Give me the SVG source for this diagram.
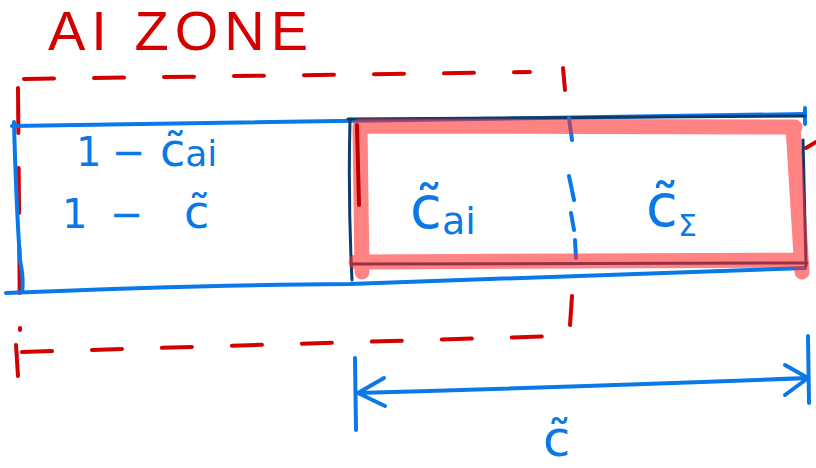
<svg xmlns="http://www.w3.org/2000/svg" width="816" height="468" viewBox="0 0 816 468">
<style>
.red{fill:none;stroke:#d40000;stroke-width:4;stroke-linecap:round;stroke-linejoin:round}
.blue{fill:none;stroke:#0a78e6;stroke-width:4;stroke-linecap:round;stroke-linejoin:round}
.navy{fill:none;stroke:#0c3a6e;stroke-width:3;stroke-linecap:round;stroke-linejoin:round}
.hl{fill:none;stroke:#ff2a2a;stroke-opacity:0.58;stroke-width:15;stroke-linecap:round;stroke-linejoin:round}
.dash{stroke-dasharray:30 40}
.lbl{font-family:"DejaVu Sans","Liberation Sans",sans-serif;fill:#0a78e6}
.ttl{font-family:"Liberation Sans",sans-serif;fill:#d40000;font-size:56px;letter-spacing:6px}
</style>
<rect width="816" height="468" fill="#ffffff"/>
<g id="title"><text class="ttl" x="48" y="50">AI ZONE</text></g>
<g id="ai-zone">
<path class="red dash" d="M24 79 L530 72"/>
<path class="red" d="M563 68 L565 90"/>
<path class="red dash" d="M18 88 L20 330" style="stroke-dasharray:45 35"/>
<path class="red" d="M572 296 L570 325"/>
<path class="red dash" d="M22 352 L560 336"/>
<path class="red" d="M16 345 L18 376"/>
<path class="red" d="M806 148 L816 142"/>
</g>
<g id="bar">
<path class="blue" d="M12 126 Q300 120 805 114"/>
<path class="blue" d="M6 293 Q200 285 350 284 Q600 276 805 268"/>
<path class="blue" d="M14 122 Q16 200 20 260 Q24 280 22 292"/>
<path class="blue" d="M805 108 L805 124"/>
</g>
<g id="highlight">
<path class="navy" d="M350 120 Q348 200 352 280"/>
<path class="navy" d="M348 119 L805 116"/>
<path class="navy" d="M803 140 L806 266"/>
<path class="navy" d="M352 264 L807 263"/>
<path class="blue" d="M569 118 L572 140 M569 176 L574 200 M571 213 L574 230 M575 240 L576 258"/>
<path class="hl" d="M360 127 L362 272 M360 126 L795 127 M793 127 L802 272 M356 262 L800 260"/>
<path class="red" d="M357 125 L359 205" style="stroke:#c00000"/>
</g>
<g id="labels">
<text class="lbl" y="166" font-size="40"><tspan x="76">1</tspan><tspan x="112">−</tspan><tspan x="160" font-size="46">c̃</tspan><tspan font-size="36">ai</tspan></text>
<text class="lbl" y="228" font-size="40"><tspan x="62">1</tspan><tspan x="110">−</tspan><tspan x="184" font-size="46">c̃</tspan></text>
<text class="lbl" x="410" y="228" font-size="58">c̃<tspan font-size="38" dy="6">ai</tspan></text>
<text class="lbl" x="646" y="226" font-size="58">c̃<tspan font-size="30" dy="10">Σ</tspan></text>
<text class="lbl" x="543" y="456" font-size="50">c̃</text>
</g>
<g id="connectors">
<path class="blue" d="M355 358 L356 430"/>
<path class="blue" d="M808 336 L809 403"/>
<path class="blue" d="M358 393 Q600 386 808 378"/>
<path class="blue" d="M384 378 L358 393 L385 406"/>
<path class="blue" d="M785 365 L808 378 L785 395"/>
</g>
</svg>
